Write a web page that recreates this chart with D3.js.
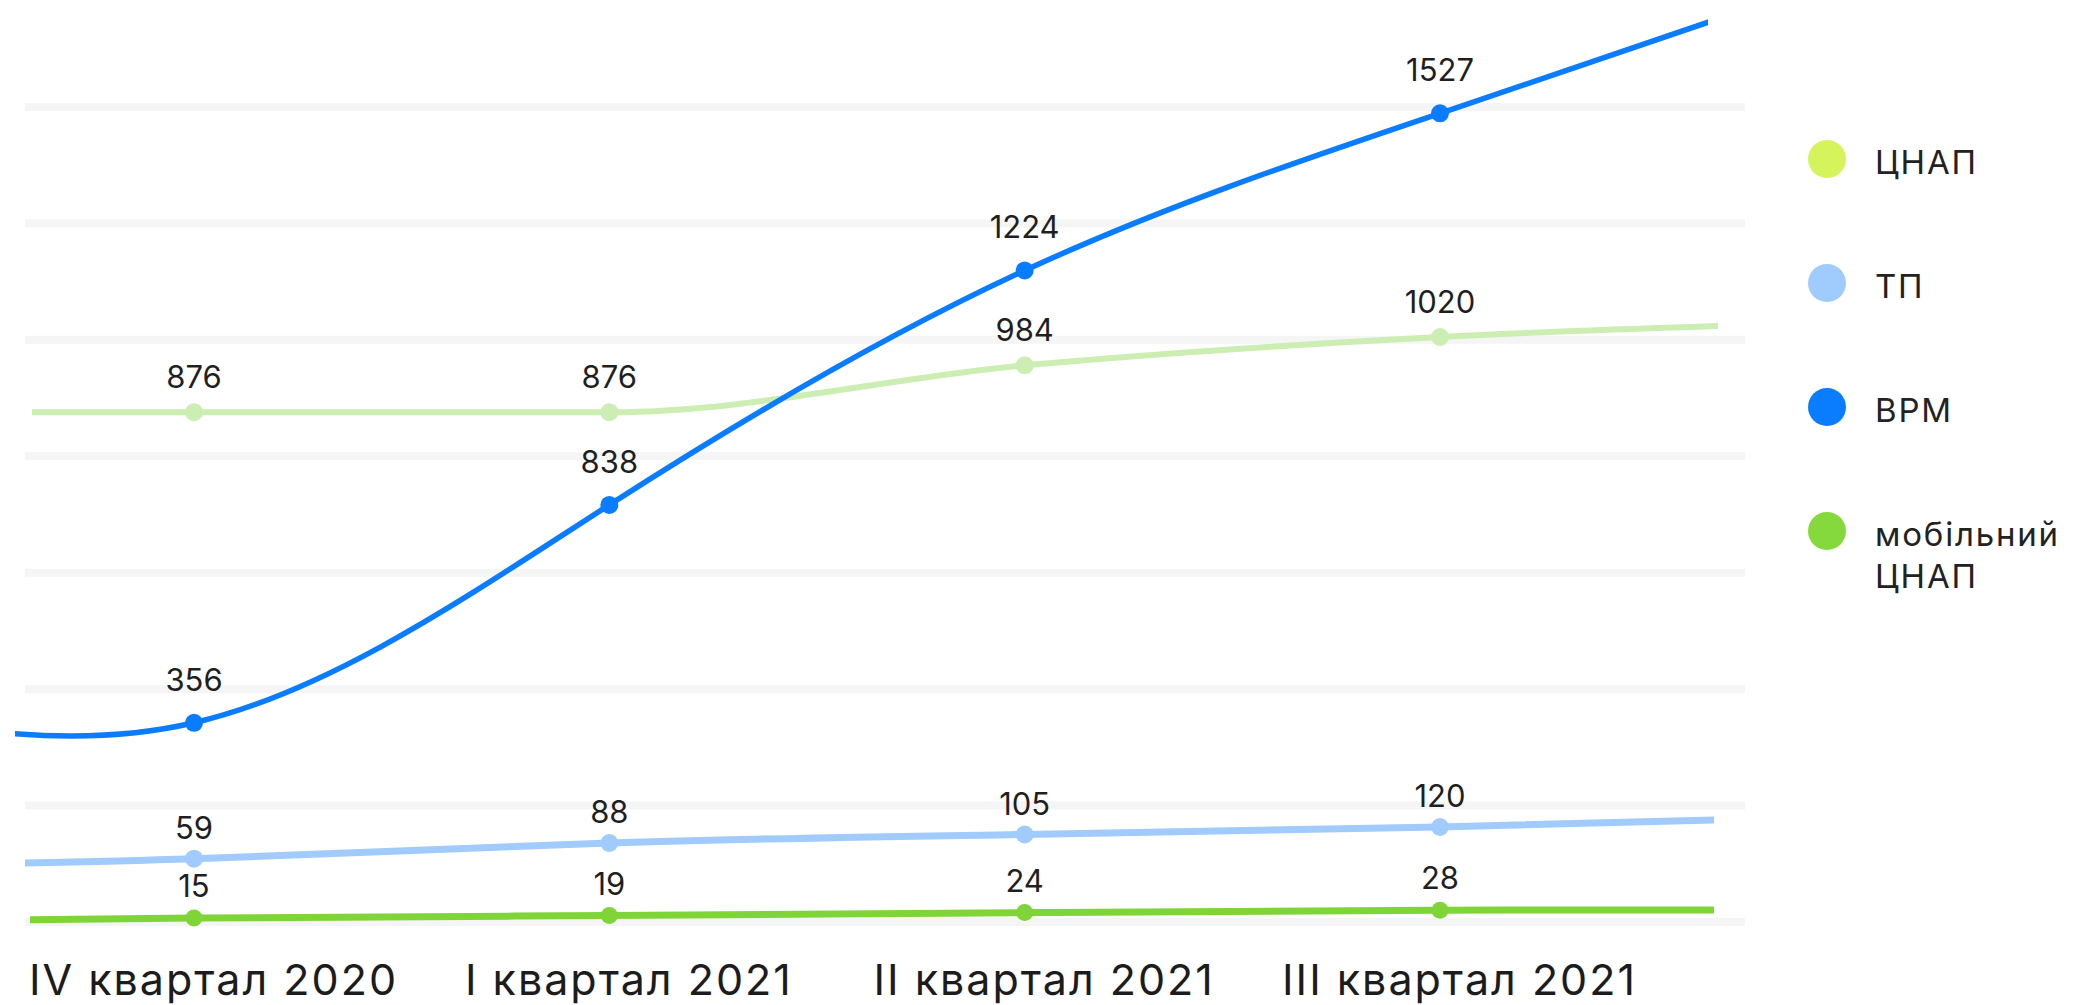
<!DOCTYPE html>
<html>
<head>
<meta charset="utf-8">
<script src="https://cdn.jsdelivr.net/npm/d3@7"></script>
<style>
  body { margin: 0; background: #fff; }
  svg { display: block; }
  text { font-family: Inter, "Noto Sans", sans-serif; }
</style>
</head>
<body>
<svg id="chart"></svg>
<script>
// ── data ──
const quarters = ["IV квартал 2020", "I квартал 2021", "II квартал 2021", "III квартал 2021"];

const cnapValues   = [876, 876, 984, 1020];
const tpValues     = [59, 88, 105, 120];
const vrmValues    = [356, 838, 1224, 1527];
const mobileValues = [15, 19, 24, 28];

// lines run on past the first / last quarter: estimated values one step outside
const cnapLead   = [876, 1066];
const tpLead     = [54, 144];
const vrmLead    = [427, 1790];
const mobileLead = [7, 28];

// the value axis is not to scale in the original: piecewise stops
const yStops   = [0, 30, 60, 120, 360, 840, 880, 980, 1020, 1250, 1550];
const yStopPos = [927, 909, 857, 827, 721, 504, 402, 368.5, 337, 262, 101];

const legendLines = [["ЦНАП"], ["ТП"], ["ВРМ"], ["мобільний", "ЦНАП"]];

// ── layout ──
const W = 2087, H = 1005;
const gridLeft = 25, gridRight = 1745;

const svg = d3.select("#chart").attr("width", W).attr("height", H);
const defs = svg.append("defs");

const x = d3.scalePoint().domain(quarters).range([194, 1440]);
const y = d3.scaleLinear().domain(yStops).range(yStopPos);
const grid = d3.scaleLinear().domain([0, 7]).range([107, 922]);

const series = [
  { id: "cnap", name: "ЦНАП", values: cnapValues, lead: cnapLead, span: [32, 1718],
    curve: d3.curveMonotoneX, line: "#cdeeb2", dot: "#d5f45c", width: 6, r: 9, gap: 24 },
  { id: "tp", name: "ТП", values: tpValues, lead: tpLead, span: [25, 1714],
    curve: d3.curveNatural, line: "#a0cbfc", dot: "#9fcbfd", width: 7, r: 9, gap: 20 },
  { id: "vrm", name: "ВРМ", values: vrmValues, lead: vrmLead, span: [15, 1708],
    curve: d3.curveNatural, line: "#0a7cff", dot: "#0a7dfe", width: 5.5, r: 9, gap: 32 },
  { id: "mob", name: "мобільний ЦНАП", values: mobileValues, lead: mobileLead, span: [30, 1714],
    curve: d3.curveNatural, line: "#7fd537", dot: "#85d93c", width: 7, r: 8.5, gap: 21 }
];
const drawOrder = ["ЦНАП", "ТП", "мобільний ЦНАП", "ВРМ"];

// ── gridlines ──
svg.append("g")
  .selectAll("line")
  .data(d3.range(8))
  .join("line")
  .attr("x1", gridLeft).attr("x2", gridRight)
  .attr("y1", grid).attr("y2", grid)
  .attr("stroke", "#f5f5f5")
  .attr("stroke-width", 8);

// ── lines + points ──
const step = x.step();
const ordered = drawOrder.map((n) => series.find((s) => s.name === n));

// each line is clipped where it stops in the original
defs.selectAll("clipPath")
  .data(ordered)
  .join("clipPath")
  .attr("id", (s) => `clip-${s.id}`)
  .append("rect")
  .attr("x", (s) => s.span[0])
  .attr("width", (s) => s.span[1] - s.span[0])
  .attr("y", -200)
  .attr("height", H + 400);

const sg = svg.append("g")
  .selectAll("g")
  .data(ordered)
  .join("g");

sg.append("path")
  .attr("clip-path", (s) => `url(#clip-${s.id})`)
  .attr("fill", "none")
  .attr("stroke", (s) => s.line)
  .attr("stroke-width", (s) => s.width)
  .attr("d", (s) => d3.line().curve(s.curve)([
    [x(quarters[0]) - step, y(s.lead[0])],
    ...s.values.map((v, i) => [x(quarters[i]), y(v)]),
    [x(quarters[quarters.length - 1]) + step, y(s.lead[1])]
  ]));

sg.selectAll("circle")
  .data((s) => s.values.map((v, i) => ({ s, v, q: quarters[i] })))
  .join("circle")
  .attr("cx", (d) => x(d.q))
  .attr("cy", (d) => y(d.v))
  .attr("r", (d) => d.s.r)
  .attr("fill", (d) => d.s.line);

// ── value labels ──
sg.selectAll("text")
  .data((s) => s.values.map((v, i) => ({ s, v, q: quarters[i] })))
  .join("text")
  .attr("x", (d) => x(d.q))
  .attr("y", (d) => y(d.v) - d.s.gap)
  .attr("text-anchor", "middle")
  .attr("font-size", 31)
  .attr("fill", "#1f1f1f")
  .text((d) => d.v);

// ── x axis ──
svg.append("g")
  .attr("transform", "translate(19, 964)")
  .call(d3.axisBottom(x).tickSize(0).tickPadding(0))
  .call((g) => g.select(".domain").remove())
  .selectAll("text")
  .attr("font-size", 43)
  .attr("letter-spacing", 2)
  .attr("fill", "#1c1c1c");

// ── legend ──
const legend = svg.append("g")
  .selectAll("g")
  .data(series)
  .join("g")
  .attr("transform", (d, i) => `translate(1827, ${159 + i * 124})`);

legend.append("circle")
  .attr("r", 19)
  .attr("fill", (d) => d.dot);

legend.append("text")
  .attr("x", 48)
  .attr("y", 15)
  .attr("font-size", 33)
  .attr("letter-spacing", 1.8)
  .attr("fill", "#222")
  .selectAll("tspan")
  .data((d, i) => legendLines[i])
  .join("tspan")
  .attr("x", 48)
  .attr("dy", (d, i) => i === 0 ? 0 : 42)
  .text((d) => d);
</script>
</body>
</html>
